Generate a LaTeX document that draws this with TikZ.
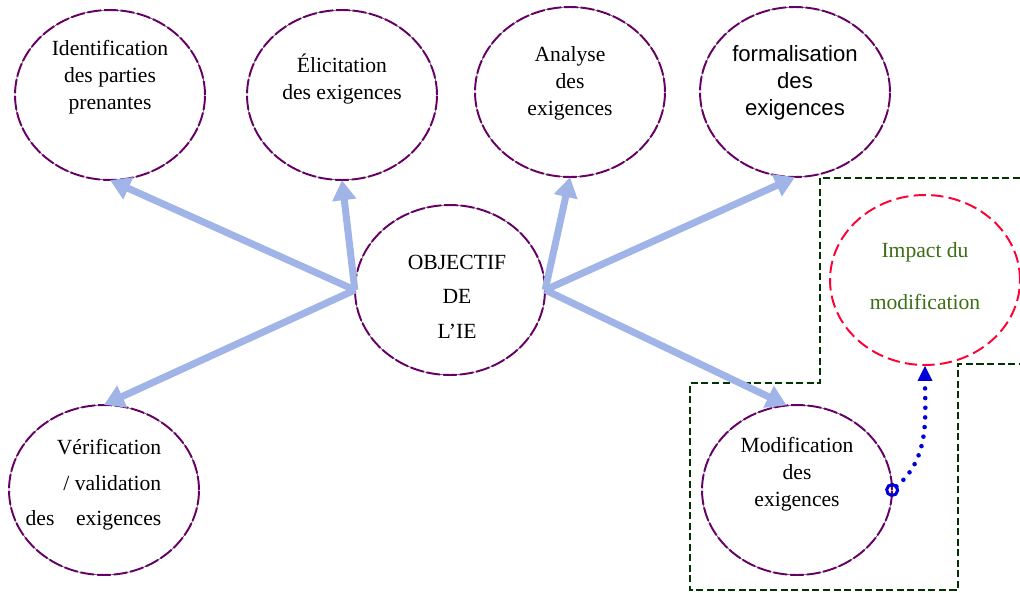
\documentclass[tikz,border=0pt]{standalone}
\usepackage{fontspec}
\setmainfont{Liberation Serif}
\newfontfamily\arialfont{Liberation Sans}
\usetikzlibrary{shapes.geometric, positioning, arrows.meta}
\definecolor{ovalpurple}{RGB}{102,0,102}
\definecolor{flowblue}{RGB}{160,180,232}
\definecolor{zonegreen}{RGB}{0,51,0}
\definecolor{impactred}{RGB}{255,0,51}
\definecolor{impacttext}{RGB}{60,110,20}
\tikzset{
  goal/.style={
    ellipse,
    minimum width=3.8cm,
    minimum height=3.4cm,
    inner sep=0pt,
    draw=black, very thin,
    font=\fontsize{12.3}{15.3}\selectfont,
    postaction={draw=ovalpurple, line width=1.1pt, dash pattern=on 8pt off 1.5pt}
  },
  impact/.style={
    ellipse,
    minimum width=3.8cm,
    minimum height=3.4cm,
    inner sep=0pt,
    draw=impactred, line width=1.1pt,
    dash pattern=on 7pt off 3pt,
    text=impacttext,
    font=\fontsize{12.3}{29.5}\selectfont
  },
  arrow/.style={
    draw=flowblue,
    line width=4pt,
    -{Triangle[length=4mm, width=4.6mm]}
  },
  dotarrow/.style={
    draw=blue!85!black,
    line width=2.6pt,
    line cap=round,
    dash pattern=on 0pt off 5.5pt,
    {Circle[open, length=2.8mm, width=2.8mm, line width=1.7pt, sep=-1.4mm]}-{Triangle[length=3mm, width=3mm, line width=0pt]}
  },
  zone/.style={
    draw=zonegreen,
    line width=1.1pt,
    dash pattern=on 4pt off 2pt
  }
}
% text block of an oval: [align][xshift]{raise}{lines}, the oval keeps its size
\NewDocumentCommand\ovaltext{O{c} O{0pt} m m}{%
  \makebox[0pt]{\hspace*{#2}%
    \raisebox{#3}[0pt][0pt]{\begin{tabular}{@{}#1@{}}#4\end{tabular}}%
    \hspace*{-#2}}}

\begin{document}
\begin{tikzpicture}[x=0.02cm, y=-0.02cm]
\useasboundingbox (0,0) rectangle (1020,592);

% zone of the modification
\draw [zone] (1020,178) -- (820,178) -- (820,383) -- (690,383) -- (690,590)
  -- (958,590) -- (958,364) -- (1020,364);

% nodes
\node[goal, font=\fontsize{12.3}{19.5}\selectfont] (obj) at (450,290)
{ \ovaltext[c][4pt]{-7pt}{OBJECTIF\\ DE\\ L'IE} };

\node[goal] (ident) at (110,95)
{ \ovaltext{7pt}{Identification\\ des parties\\ prenantes} };

\node[goal] (elic) at (342,95)
{ \ovaltext{5pt}{Élicitation\\ des exigences} };

\node[goal] (anal) at (570,92)
{ \ovaltext{2pt}{Analyse\\ des\\ exigences} };

\node[goal, font=\arialfont\fontsize{12.6}{15.3}\selectfont] (form) at (795,92)
{ \ovaltext{2pt}{formalisation\\ des\\ exigences} };

\node[goal, font=\fontsize{12.3}{20}\selectfont] (verif) at (104,490)
{ \ovaltext[r][-6pt]{1pt}{Vérification\\ / validation\\ des\quad exigences} };

\node[goal] (modif) at (797,490)
{ \ovaltext{6pt}{Modification\\ des\\ exigences} };

\node[impact] (imp) at (925,280)
{ \ovaltext{1pt}{Impact du\\ modification} };

% edges
\draw [arrow] (obj.west) -- (ident.south);
\draw [arrow] (obj.west) -- (elic.south);
\draw [arrow] (obj.west) -- (verif.north);
\draw [arrow] (obj.east) -- (anal.south);
\draw [arrow] (obj.east) -- (form.south);
\draw [arrow] (obj.east) -- (modif.97);

\draw [dotarrow] (modif.east) to[out=40, in=-90] (imp.south);
\end{tikzpicture}
\end{document}
